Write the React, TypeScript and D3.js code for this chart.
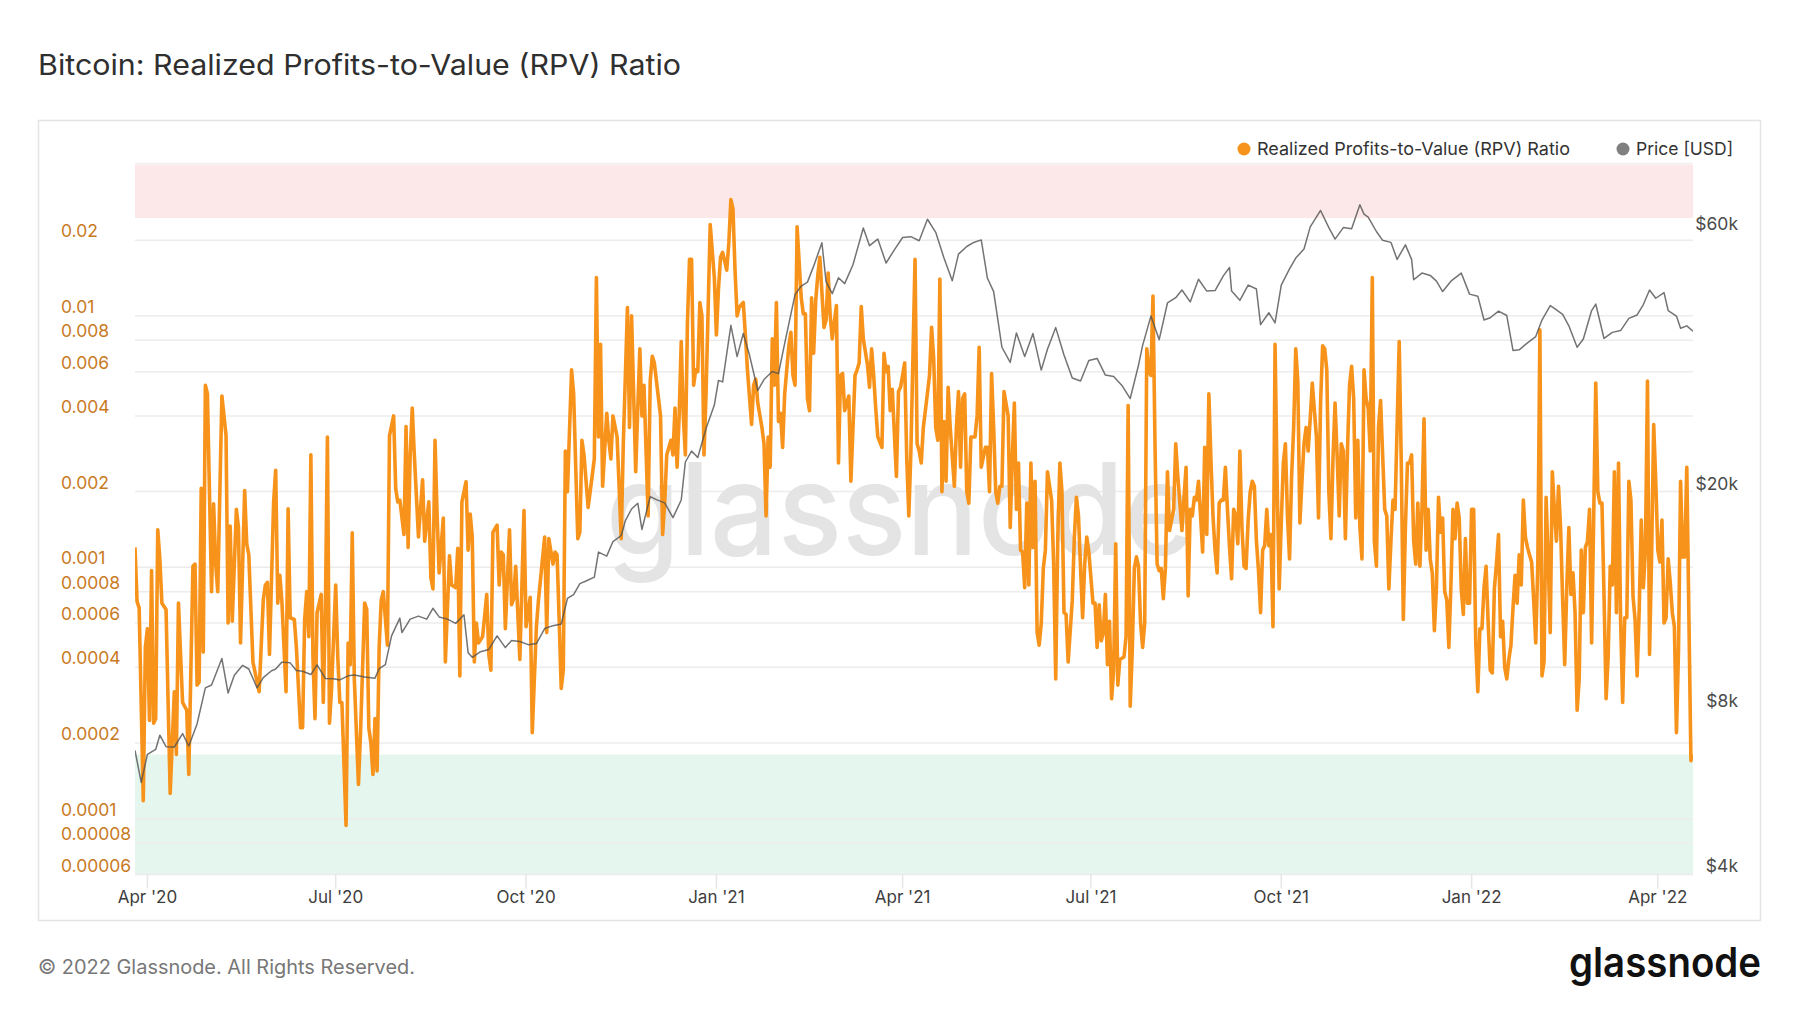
import React from 'react';
import * as d3 from 'd3';

const START = '2020-03-26';
const END = '2022-04-18';

// RPV ratio, [days since START, ratio]
const rpvSeries: [number, number][] = [
  [0, 0.0012], [1, 0.00073], [2, 0.00069], [4, 0.000118], [5, 0.00048], [6, 0.00057], [7, 0.000246], [8, 0.00097], [9, 0.00024], [10, 0.00025],
  [11, 0.00141], [12, 0.00108], [13, 0.00072], [15, 0.00068], [17, 0.000126], [19, 0.00032], [20, 0.00018], [21, 0.00072], [23, 0.00029], [25, 0.00027],
  [26, 0.00015], [28, 0.00101], [29, 0.00103], [30, 0.00034], [31, 0.00035], [32, 0.00206], [33, 0.00046], [34, 0.0053], [35, 0.0049], [37, 0.0008],
  [38, 0.00179], [39, 0.00103], [40, 0.0008], [42, 0.0048], [44, 0.00334], [45, 0.0006], [46, 0.00146], [47, 0.00061], [49, 0.0017], [50, 0.00144],
  [51, 0.0005], [53, 0.00202], [54, 0.00124], [55, 0.00112], [57, 0.00042], [59, 0.00035], [60, 0.00032], [62, 0.00074], [63, 0.00085], [64, 0.00087],
  [65, 0.00045], [67, 0.00182], [68, 0.00243], [69, 0.00072], [70, 0.00093], [71, 0.00073], [73, 0.00032], [74, 0.00171], [75, 0.00063], [77, 0.00062],
  [78, 0.00048], [80, 0.00023], [81, 0.00023], [82, 0.00062], [83, 0.0008], [84, 0.00053], [85, 0.0028], [86, 0.00044], [87, 0.00025], [88, 0.00066],
  [90, 0.00078], [91, 0.00029], [92, 0.00066], [93, 0.0033], [94, 0.00024], [95, 0.00033], [97, 0.00085], [98, 0.00044], [99, 0.00029], [100, 0.00029],
  [102, 0.000094], [103, 0.0005], [104, 0.00041], [105, 0.00137], [106, 0.00036], [108, 0.000137], [109, 0.00022], [111, 0.00072], [112, 0.00068], [113, 0.00023],
  [114, 0.0002], [115, 0.00015], [116, 0.00025], [117, 0.000155], [118, 0.00048], [119, 0.00074], [120, 0.0008], [122, 0.00049], [123, 0.00334], [125, 0.004],
  [126, 0.00206], [127, 0.00182], [128, 0.00185], [130, 0.00135], [131, 0.00363], [132, 0.0012], [133, 0.0028], [134, 0.0043], [135, 0.0028], [137, 0.00132],
  [139, 0.00223], [140, 0.00127], [142, 0.00182], [143, 0.00091], [144, 0.00082], [145, 0.0032], [146, 0.00163], [147, 0.00095], [149, 0.00157], [150, 0.00042],
  [152, 0.00111], [153, 0.00085], [155, 0.00083], [156, 0.00119], [157, 0.00037], [158, 0.00182], [160, 0.00219], [161, 0.00117], [162, 0.00163], [163, 0.00132],
  [164, 0.00042], [165, 0.0006], [166, 0.0005], [168, 0.00053], [170, 0.00078], [171, 0.00045], [172, 0.00039], [173, 0.00138], [175, 0.00147], [176, 0.00085],
  [177, 0.00115], [178, 0.00112], [179, 0.00057], [181, 0.00141], [182, 0.00071], [183, 0.00075], [184, 0.00101], [186, 0.00043], [188, 0.00168], [189, 0.00058],
  [191, 0.00076], [192, 0.00022], [194, 0.00058], [195, 0.00074], [198, 0.00132], [199, 0.00055], [200, 0.0013], [202, 0.00103], [203, 0.00115], [204, 0.00112],
  [205, 0.00062], [206, 0.00033], [207, 0.00039], [208, 0.0029], [209, 0.002], [211, 0.0061], [212, 0.0049], [214, 0.0013], [215, 0.00138], [216, 0.0032],
  [217, 0.0028], [219, 0.00173], [220, 0.002], [222, 0.0027], [223, 0.0142], [224, 0.0033], [225, 0.0077], [226, 0.0021], [228, 0.0041], [229, 0.0032],
  [230, 0.0027], [231, 0.004], [233, 0.0033], [235, 0.0013], [236, 0.0031], [238, 0.0108], [239, 0.0036], [240, 0.01], [242, 0.0024], [243, 0.0043],
  [244, 0.0074], [245, 0.004], [246, 0.0053], [248, 0.0016], [249, 0.0055], [250, 0.0069], [251, 0.0065], [253, 0.0047], [254, 0.004], [255, 0.00135],
  [256, 0.0018], [257, 0.0028], [259, 0.0032], [260, 0.0028], [261, 0.0043], [262, 0.0025], [263, 0.004], [264, 0.0079], [265, 0.004], [266, 0.0028],
  [267, 0.0094], [268, 0.0168], [269, 0.0168], [270, 0.0053], [271, 0.0061], [272, 0.006], [273, 0.0113], [274, 0.01], [275, 0.0028], [276, 0.0049],
  [278, 0.0231], [280, 0.0142], [281, 0.0084], [282, 0.0128], [283, 0.0171], [284, 0.0179], [286, 0.0152], [287, 0.0195], [288, 0.029], [289, 0.0267],
  [290, 0.0152], [291, 0.01], [292, 0.0108], [294, 0.0113], [295, 0.0084], [296, 0.0061], [298, 0.0037], [299, 0.0053], [300, 0.0056], [301, 0.0045],
  [303, 0.0036], [304, 0.0031], [305, 0.0016], [306, 0.0033], [307, 0.0025], [308, 0.0081], [309, 0.0053], [310, 0.0113], [311, 0.0038], [312, 0.0041],
  [313, 0.003], [314, 0.0049], [316, 0.0076], [317, 0.0086], [318, 0.0058], [319, 0.0053], [320, 0.0226], [322, 0.0118], [323, 0.0102], [324, 0.0102],
  [325, 0.0047], [326, 0.0042], [327, 0.0118], [328, 0.0071], [329, 0.0115], [330, 0.0145], [331, 0.0171], [333, 0.009], [334, 0.0096], [335, 0.0148],
  [336, 0.01], [337, 0.0081], [339, 0.011], [340, 0.0026], [341, 0.0058], [342, 0.0059], [343, 0.0042], [345, 0.0048], [346, 0.0022], [348, 0.0058],
  [349, 0.0061], [350, 0.0065], [351, 0.0109], [352, 0.0081], [354, 0.0064], [355, 0.0052], [356, 0.0074], [357, 0.0058], [358, 0.0043], [359, 0.0033],
  [361, 0.003], [362, 0.0071], [363, 0.006], [364, 0.0063], [365, 0.0042], [366, 0.0051], [368, 0.0023], [369, 0.005], [370, 0.0052], [372, 0.0065],
  [373, 0.0027], [374, 0.0016], [375, 0.0029], [377, 0.0168], [378, 0.0031], [379, 0.0029], [380, 0.0026], [381, 0.0036], [382, 0.0042], [384, 0.0058],
  [385, 0.009], [386, 0.0068], [387, 0.0036], [388, 0.0032], [389, 0.014], [390, 0.002], [391, 0.0038], [392, 0.0022], [393, 0.0052], [394, 0.0036],
  [396, 0.0021], [397, 0.0036], [398, 0.005], [399, 0.0025], [400, 0.0047], [401, 0.0049], [402, 0.002], [403, 0.0018], [404, 0.0033], [406, 0.0033],
  [407, 0.004], [408, 0.0075], [409, 0.0025], [411, 0.003], [412, 0.003], [413, 0.002], [414, 0.0059], [415, 0.0036], [416, 0.002], [417, 0.0018],
  [418, 0.0021], [419, 0.0021], [420, 0.005], [422, 0.004], [423, 0.00144], [424, 0.0027], [425, 0.0045], [426, 0.0017], [427, 0.0026], [428, 0.00117],
  [429, 0.00115], [430, 0.00083], [431, 0.0018], [432, 0.00085], [433, 0.0026], [434, 0.0012], [435, 0.0022], [436, 0.00055], [437, 0.00049], [438, 0.0006],
  [439, 0.00099], [440, 0.00117], [441, 0.0024], [443, 0.00185], [444, 0.00103], [445, 0.00036], [446, 0.00132], [447, 0.0026], [448, 0.002], [449, 0.00066],
  [450, 0.00065], [451, 0.00042], [453, 0.00074], [454, 0.00132], [455, 0.0019], [456, 0.0016], [457, 0.00099], [458, 0.00063], [459, 0.00103], [460, 0.00132],
  [461, 0.00115], [463, 0.00072], [464, 0.00072], [465, 0.00048], [466, 0.00071], [467, 0.00051], [468, 0.00055], [469, 0.00078], [470, 0.00041], [471, 0.00061],
  [472, 0.0003], [473, 0.00039], [474, 0.00124], [475, 0.00034], [476, 0.00043], [478, 0.00044], [479, 0.00053], [480, 0.0044], [481, 0.00028], [482, 0.00047],
  [483, 0.00099], [484, 0.0011], [485, 0.00101], [486, 0.0006], [487, 0.00048], [488, 0.0006], [489, 0.0074], [490, 0.006], [491, 0.0058], [492, 0.012],
  [493, 0.003], [494, 0.00103], [495, 0.00097], [496, 0.00099], [497, 0.00075], [498, 0.00099], [499, 0.0024], [500, 0.0014], [502, 0.0017], [503, 0.0031],
  [504, 0.0023], [505, 0.0018], [506, 0.0014], [507, 0.0019], [508, 0.0025], [509, 0.00077], [510, 0.0017], [511, 0.0016], [512, 0.0019], [513, 0.00185],
  [514, 0.0022], [515, 0.0016], [516, 0.00115], [517, 0.003], [518, 0.00135], [519, 0.0049], [520, 0.0027], [521, 0.0016], [522, 0.00117], [523, 0.00095],
  [524, 0.0018], [525, 0.00185], [526, 0.00185], [527, 0.0025], [528, 0.0017], [529, 0.0012], [530, 0.0009], [531, 0.0017], [532, 0.0016], [533, 0.00124],
  [534, 0.0029], [535, 0.00144], [536, 0.00101], [537, 0.00099], [538, 0.00154], [539, 0.002], [540, 0.0022], [541, 0.0021], [542, 0.00127], [543, 0.00097],
  [544, 0.00066], [545, 0.00117], [546, 0.00122], [547, 0.0017], [548, 0.00122], [549, 0.00135], [550, 0.00058], [551, 0.0077], [552, 0.0022], [553, 0.00082],
  [554, 0.0015], [555, 0.0026], [556, 0.0031], [557, 0.0016], [558, 0.00108], [559, 0.0023], [560, 0.0036], [561, 0.0074], [562, 0.0055], [563, 0.0015],
  [564, 0.0022], [565, 0.0031], [566, 0.0036], [567, 0.0029], [568, 0.0039], [569, 0.0054], [571, 0.0033], [572, 0.00157], [573, 0.0045], [574, 0.0076],
  [575, 0.0074], [576, 0.0061], [577, 0.002], [578, 0.0013], [579, 0.0027], [580, 0.0045], [581, 0.0028], [582, 0.0016], [583, 0.0031], [584, 0.0029],
  [585, 0.0013], [586, 0.0029], [587, 0.0053], [588, 0.0063], [589, 0.0047], [590, 0.00157], [591, 0.0032], [592, 0.00144], [593, 0.00108], [594, 0.0061],
  [595, 0.0047], [596, 0.0043], [597, 0.0029], [598, 0.0142], [599, 0.00127], [600, 0.00101], [601, 0.0036], [602, 0.0046], [603, 0.0028], [604, 0.0017],
  [605, 0.0016], [606, 0.00082], [607, 0.00127], [608, 0.00185], [609, 0.0017], [611, 0.0079], [612, 0.0026], [613, 0.00062], [614, 0.00144], [615, 0.0026],
  [616, 0.0026], [617, 0.0028], [618, 0.00127], [619, 0.00103], [620, 0.0018], [621, 0.00101], [622, 0.0017], [623, 0.0039], [624, 0.00117], [625, 0.0017],
  [626, 0.00108], [627, 0.00095], [628, 0.00056], [629, 0.00083], [630, 0.0019], [631, 0.00138], [632, 0.00157], [633, 0.0008], [634, 0.00074], [635, 0.00048],
  [636, 0.00085], [637, 0.0017], [638, 0.0013], [639, 0.0018], [640, 0.00157], [641, 0.00082], [642, 0.00065], [643, 0.0013], [644, 0.00072], [645, 0.00072],
  [646, 0.0017], [647, 0.0017], [648, 0.0005], [649, 0.00032], [650, 0.00057], [651, 0.00057], [652, 0.00083], [653, 0.00101], [654, 0.0006], [655, 0.00039],
  [656, 0.00038], [657, 0.00082], [658, 0.00103], [659, 0.00135], [660, 0.00053], [661, 0.00061], [662, 0.0004], [663, 0.00036], [664, 0.00043], [665, 0.00049],
  [666, 0.00069], [667, 0.00093], [668, 0.00072], [669, 0.00112], [670, 0.00085], [671, 0.00185], [672, 0.00132], [673, 0.0012], [674, 0.00112], [675, 0.00105],
  [676, 0.00074], [677, 0.0005], [678, 0.00103], [679, 0.0088], [680, 0.00037], [681, 0.00042], [682, 0.0019], [683, 0.00108], [684, 0.00055], [685, 0.0024],
  [686, 0.0017], [687, 0.00127], [688, 0.0021], [689, 0.00144], [690, 0.00074], [691, 0.00041], [692, 0.00083], [693, 0.00144], [694, 0.00078], [695, 0.00095],
  [696, 0.00066], [697, 0.00027], [698, 0.00036], [699, 0.00117], [700, 0.00066], [701, 0.0012], [702, 0.00127], [703, 0.0017], [704, 0.0005], [705, 0.00157],
  [706, 0.0054], [707, 0.002], [708, 0.0018], [709, 0.0018], [710, 0.00077], [711, 0.0003], [712, 0.00044], [713, 0.00101], [714, 0.00085], [715, 0.0024],
  [716, 0.00066], [717, 0.0026], [718, 0.00062], [719, 0.00029], [720, 0.00063], [721, 0.00063], [722, 0.0022], [723, 0.00185], [724, 0.00077], [725, 0.00062],
  [726, 0.00037], [727, 0.00068], [728, 0.00154], [729, 0.00083], [730, 0.00117], [731, 0.0055], [732, 0.00045], [733, 0.00112], [734, 0.0037], [735, 0.0022],
  [736, 0.00117], [737, 0.00105], [738, 0.00154], [739, 0.0006], [740, 0.00063], [741, 0.00108], [742, 0.00087], [743, 0.00066], [744, 0.00058], [745, 0.00022],
  [746, 0.00047], [747, 0.0022], [748, 0.0011], [749, 0.0011], [750, 0.0025], [752, 0.00017], [753, 0.00018],
];

// BTC price in USD
const priceSeries: [string, number][] = [
  ['2020-03-26', 6750], ['2020-03-29', 5900], ['2020-04-01', 6640], ['2020-04-05', 6780], ['2020-04-07', 7200], ['2020-04-10', 6860],
  ['2020-04-14', 6850], ['2020-04-18', 7250], ['2020-04-21', 6880], ['2020-04-25', 7550], ['2020-04-29', 8790], ['2020-05-02', 8900],
  ['2020-05-07', 9950], ['2020-05-10', 8600], ['2020-05-13', 9270], ['2020-05-17', 9670], ['2020-05-20', 9520], ['2020-05-24', 8790],
  ['2020-05-27', 9180], ['2020-05-31', 9450], ['2020-06-02', 9520], ['2020-06-05', 9800], ['2020-06-09', 9770], ['2020-06-12', 9460],
  ['2020-06-15', 9430], ['2020-06-19', 9300], ['2020-06-22', 9690], ['2020-06-26', 9150], ['2020-06-30', 9140], ['2020-07-03', 9090],
  ['2020-07-07', 9250], ['2020-07-10', 9280], ['2020-07-15', 9200], ['2020-07-20', 9160], ['2020-07-22', 9530], ['2020-07-25', 9700],
  ['2020-07-28', 10950], ['2020-08-01', 11800], ['2020-08-02', 11100], ['2020-08-06', 11750], ['2020-08-10', 11900], ['2020-08-14', 11750],
  ['2020-08-17', 12300], ['2020-08-20', 11860], ['2020-08-24', 11750], ['2020-08-28', 11540], ['2020-09-01', 11970], ['2020-09-03', 10200],
  ['2020-09-05', 10000], ['2020-09-09', 10240], ['2020-09-13', 10340], ['2020-09-17', 10950], ['2020-09-21', 10420], ['2020-09-24', 10740],
  ['2020-09-28', 10690], ['2020-10-02', 10550], ['2020-10-06', 10600], ['2020-10-10', 11290], ['2020-10-14', 11430], ['2020-10-18', 11510],
  ['2020-10-21', 12820], ['2020-10-24', 13030], ['2020-10-27', 13650], ['2020-10-30', 13800], ['2020-11-03', 14030], ['2020-11-05', 15590],
  ['2020-11-09', 15330], ['2020-11-12', 16300], ['2020-11-16', 16720], ['2020-11-18', 17800], ['2020-11-21', 18700], ['2020-11-24', 19160],
  ['2020-11-26', 17150], ['2020-11-30', 19700], ['2020-12-03', 19450], ['2020-12-07', 19190], ['2020-12-11', 18030], ['2020-12-15', 19420],
  ['2020-12-17', 22800], ['2020-12-20', 23870], ['2020-12-23', 23240], ['2020-12-27', 26270], ['2020-12-31', 28990], ['2021-01-02', 32170],
  ['2021-01-04', 31970], ['2021-01-08', 40580], ['2021-01-11', 35570], ['2021-01-14', 39200], ['2021-01-17', 35800], ['2021-01-21', 30830],
  ['2021-01-24', 32290], ['2021-01-28', 33400], ['2021-01-31', 33100], ['2021-02-03', 37620], ['2021-02-08', 46200], ['2021-02-11', 47900],
  ['2021-02-14', 48700], ['2021-02-17', 52100], ['2021-02-21', 57500], ['2021-02-23', 48800], ['2021-02-26', 46400], ['2021-03-01', 49600],
  ['2021-03-04', 48400], ['2021-03-08', 52400], ['2021-03-13', 61200], ['2021-03-16', 56800], ['2021-03-20', 58400], ['2021-03-24', 52800],
  ['2021-03-28', 55800], ['2021-04-01', 58800], ['2021-04-05', 59000], ['2021-04-09', 58000], ['2021-04-13', 63500], ['2021-04-17', 60100],
  ['2021-04-21', 53900], ['2021-04-25', 49000], ['2021-04-28', 54800], ['2021-05-02', 56600], ['2021-05-05', 57500], ['2021-05-09', 58200],
  ['2021-05-12', 49500], ['2021-05-15', 46800], ['2021-05-19', 37000], ['2021-05-23', 34700], ['2021-05-26', 39300], ['2021-05-30', 35600],
  ['2021-06-03', 39200], ['2021-06-07', 33600], ['2021-06-10', 36700], ['2021-06-14', 40200], ['2021-06-18', 35800], ['2021-06-22', 32500],
  ['2021-06-26', 32100], ['2021-06-30', 35000], ['2021-07-04', 35300], ['2021-07-08', 32900], ['2021-07-12', 32700], ['2021-07-16', 31500],
  ['2021-07-20', 29800], ['2021-07-24', 34300], ['2021-07-26', 37300], ['2021-07-30', 42200], ['2021-08-03', 38200], ['2021-08-07', 44600],
  ['2021-08-11', 45600], ['2021-08-14', 47100], ['2021-08-18', 44800], ['2021-08-22', 49300], ['2021-08-26', 46900], ['2021-08-30', 47000],
  ['2021-09-03', 50000], ['2021-09-06', 51800], ['2021-09-07', 46900], ['2021-09-11', 45100], ['2021-09-15', 48100], ['2021-09-19', 47300],
  ['2021-09-21', 40700], ['2021-09-25', 42800], ['2021-09-28', 41000], ['2021-10-01', 48100], ['2021-10-05', 51500], ['2021-10-08', 53900],
  ['2021-10-12', 56000], ['2021-10-15', 61500], ['2021-10-20', 65900], ['2021-10-24', 61300], ['2021-10-27', 58400], ['2021-10-31', 61300],
  ['2021-11-04', 61000], ['2021-11-08', 67500], ['2021-11-10', 64900], ['2021-11-12', 64100], ['2021-11-16', 60300], ['2021-11-19', 58100],
  ['2021-11-23', 57600], ['2021-11-26', 53600], ['2021-11-30', 57000], ['2021-12-03', 53600], ['2021-12-04', 49200], ['2021-12-08', 50600],
  ['2021-12-12', 50100], ['2021-12-15', 48900], ['2021-12-18', 46800], ['2021-12-22', 48900], ['2021-12-27', 50600], ['2021-12-31', 46300],
  ['2022-01-04', 45900], ['2022-01-07', 41500], ['2022-01-10', 41900], ['2022-01-14', 43100], ['2022-01-18', 42300], ['2022-01-21', 36500],
  ['2022-01-24', 36600], ['2022-01-28', 37700], ['2022-02-01', 38700], ['2022-02-04', 41500], ['2022-02-08', 44100], ['2022-02-10', 43600],
  ['2022-02-14', 42500], ['2022-02-17', 40500], ['2022-02-21', 37000], ['2022-02-24', 38300], ['2022-02-28', 43200], ['2022-03-02', 44400],
  ['2022-03-06', 38400], ['2022-03-10', 39400], ['2022-03-14', 39700], ['2022-03-18', 41800], ['2022-03-22', 42400], ['2022-03-25', 44300],
  ['2022-03-28', 47100], ['2022-03-31', 45500], ['2022-04-04', 46600], ['2022-04-06', 43200], ['2022-04-10', 42200], ['2022-04-12', 40100],
  ['2022-04-15', 40500], ['2022-04-18', 39600],
];

const rpvTicks = [0.02, 0.01, 0.008, 0.006, 0.004, 0.002, 0.001, 0.0008, 0.0006, 0.0004, 0.0002, 0.0001, 0.00008, 0.00006];
const rpvTickLabels = ['0.02', '0.01', '0.008', '0.006', '0.004', '0.002', '0.001', '0.0008', '0.0006', '0.0004', '0.0002', '0.0001', '0.00008', '0.00006'];
const priceTicks = [60000, 20000, 8000, 4000];
const priceTickLabels = ['$60k', '$20k', '$8k', '$4k'];
const dateTicks = ['2020-04-01', '2020-07-01', '2020-10-01', '2021-01-01', '2021-04-01', '2021-07-01', '2021-10-01', '2022-01-01', '2022-04-01'];

const rpvDomain: [number, number] = [0.00006, 0.04];
const priceDomain: [number, number] = [4000, 80000];
const sellZone: [number, number] = [0.0245, 0.04];
const buyZone: [number, number] = [0.00006, 0.00018];

const W = 1800;
const H = 1013;
const plot = { left: 135, right: 1693, top: 164.5, bottom: 874.5 };
const FONT = "Inter, 'Noto Sans', sans-serif";
const ORANGE = '#f7931a';

export default function App() {
  const parse = d3.timeParse('%Y-%m-%d');
  const t0 = parse(START)!;
  const x = d3.scaleTime().domain([t0, parse(END)!]).range([plot.left, plot.right]);
  const y = d3.scaleLog().domain(rpvDomain).range([plot.bottom, plot.top]);
  const yp = d3.scaleLog().domain(priceDomain).range([plot.bottom, plot.top]);
  const fmt = d3.timeFormat("%b '%y");

  const rpvLine = d3.line<[number, number]>()
    .x(d => x(d3.timeDay.offset(t0, d[0])))
    .y(d => y(d[1]));
  const priceLine = d3.line<[string, number]>()
    .x(d => x(parse(d[0])!))
    .y(d => yp(d[1]));

  const pw = plot.right - plot.left;

  return (
    <div style={{ position: 'absolute', left: 0, top: 0 }}>
      <svg width={W} height={H} style={{ display: 'block', background: '#fff' }}>
        <defs>
          <clipPath id="plot-clip">
            <rect x={plot.left} y={plot.top} width={pw} height={plot.bottom - plot.top} />
          </clipPath>
        </defs>

        <text x={38} y={75} fontFamily={FONT} fontSize={28.5} fontWeight={400} fill="#2f2f2f"
          textLength={643} lengthAdjust="spacingAndGlyphs">
          Bitcoin: Realized Profits-to-Value (RPV) Ratio
        </text>

        <rect x={38.5} y={120.5} width={1722} height={800} fill="#fff" stroke="#e4e4e4" strokeWidth={1.5} />

        {/* zones */}
        <rect x={plot.left} y={y(sellZone[1])} width={pw} height={y(sellZone[0]) - y(sellZone[1])} fill="#fde8e9" />
        <rect x={plot.left} y={y(buyZone[1])} width={pw} height={y(buyZone[0]) - y(buyZone[1])} fill="#e5f6ee" />

        {/* grid */}
        <line x1={plot.left} x2={plot.right} y1={plot.top - 1} y2={plot.top - 1} stroke="#f0f0f0" strokeWidth={1.5} />
        {rpvTicks.map(t => (
          <line key={t} x1={plot.left} x2={plot.right} y1={y(t)} y2={y(t)} stroke="#ececec" strokeWidth={1.5} />
        ))}

        <text x={(x.range()[0] + x.range()[1]) / 2 - 14} y={555} textAnchor="middle" fontFamily={FONT}
          fontSize={128} fontWeight={500} fill="#e4e4e4" textLength={588} lengthAdjust="spacingAndGlyphs">
          glassnode
        </text>

        {/* x axis */}
        {dateTicks.map(d => {
          const xx = x(parse(d)!);
          return (
            <g key={d}>
              <line x1={xx} x2={xx} y1={plot.bottom} y2={plot.bottom + 14} stroke="#e6e6e6" strokeWidth={1.5} />
              <text x={xx} y={903} textAnchor="middle" fontFamily={FONT} fontSize={17} fill="#3d3d3d">
                {fmt(parse(d)!)}
              </text>
            </g>
          );
        })}

        {/* left axis */}
        {rpvTicks.map((t, i) => (
          <text key={t} x={61} y={y(t) - 3} fontFamily={FONT} fontSize={17.5} fill="#c97a1f">
            {rpvTickLabels[i]}
          </text>
        ))}

        {/* right axis */}
        {priceTicks.map((t, i) => (
          <text key={t} x={1738} y={yp(t) - 3} textAnchor="end" fontFamily={FONT} fontSize={17.5} fill="#4a4a4a">
            {priceTickLabels[i]}
          </text>
        ))}

        <g clipPath="url(#plot-clip)">
          <path d={rpvLine(rpvSeries) ?? ''} fill="none" stroke={ORANGE} strokeWidth={3.6} strokeLinejoin="round" />
          <path d={priceLine(priceSeries) ?? ''} fill="none" stroke="#505050" strokeOpacity={0.8} strokeWidth={1.5} strokeLinejoin="round" />
        </g>

        {/* legend */}
        <circle cx={1244} cy={149} r={6.5} fill={ORANGE} />
        <text x={1257} y={155} fontFamily={FONT} fontSize={17.5} fill="#333" textLength={313} lengthAdjust="spacingAndGlyphs">
          Realized Profits-to-Value (RPV) Ratio
        </text>
        <circle cx={1623} cy={149} r={6.5} fill="#808080" />
        <text x={1636} y={155} fontFamily={FONT} fontSize={17.5} fill="#333">Price [USD]</text>

        {/* footer */}
        <text x={38} y={974} fontFamily={FONT} fontSize={19.5} fill="#777" textLength={377} lengthAdjust="spacingAndGlyphs">
          © 2022 Glassnode. All Rights Reserved.
        </text>
        <text x={1569} y={977} fontFamily={FONT} fontSize={41} fontWeight={600} fill="#111"
          textLength={192} lengthAdjust="spacingAndGlyphs">
          glassnode
        </text>
      </svg>
    </div>
  );
}
